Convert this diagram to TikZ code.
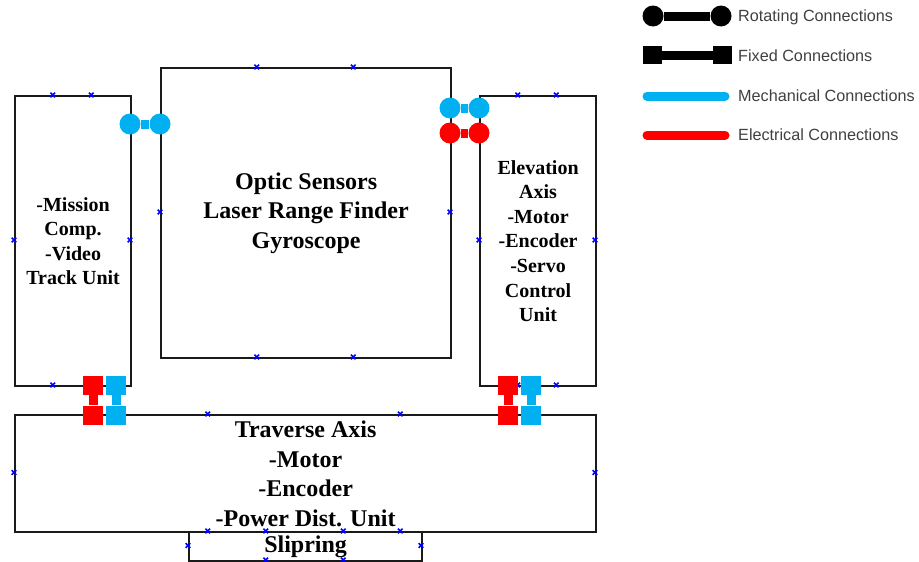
\documentclass[tikz,border=0pt]{standalone}
\usepackage{fontspec}
\setmainfont{Liberation Serif}
\newfontfamily\legendfont{Liberation Sans}
\definecolor{mech}{HTML}{00B0F0}
\definecolor{elec}{HTML}{FF0000}
\definecolor{edgecol}{HTML}{1A1A1A}
\definecolor{legtext}{HTML}{404040}
\begin{document}
\begin{tikzpicture}[x=1pt,y=-1pt,
 box/.style={draw=edgecol, line width=2.2pt, rectangle, inner sep=0pt, anchor=north west, align=center, font=\bfseries\fontsize{24}{29.5}\selectfont},
 sbox/.style={box, font=\bfseries\fontsize{20}{24.6}\selectfont},
 rot/.style={circle, fill=#1, minimum size=21pt, inner sep=0pt},
 fix/.style={rectangle, fill=#1, minimum width=20pt, minimum height=19pt, inner sep=0pt},
 bar/.style={draw=#1, line width=9pt},
 cmark/.pic={\draw[blue, line width=1.5pt] (-2.3,-2.3)--(2.3,2.3) (-2.3,2.3)--(2.3,-2.3);},
 leg/.style={anchor=west, inner sep=0pt, text=legtext, font=\legendfont\fontsize{16.2}{19}\selectfont}
]
\useasboundingbox (0,0) rectangle (919,562);

% boxes
\node[sbox, minimum width=116pt, minimum height=290pt] (mission) at (14,95) {-Mission\\Comp.\\-Video\\Track Unit};
\node[box, minimum width=290pt, minimum height=290pt] (optic) at (160,67) {Optic Sensors\\Laser Range Finder\\Gyroscope};
\node[sbox, minimum width=116pt, minimum height=290pt] (elev) at (479,95) {Elevation\\Axis\\-Motor\\-Encoder\\-Servo\\Control\\Unit};
\node[box, minimum width=581pt, minimum height=117pt] (trav) at (14,414) {Traverse Axis\\-Motor\\-Encoder\\-Power Dist. Unit};
\node[box, minimum width=233pt, minimum height=29pt] (slip) at (188,531) {Slipring};

% connection point marks
\foreach \p in {(52.7,95),(91.3,95),(14,240),(130,240),(52.7,385),(91.3,385),
  (256.7,67),(353.3,67),(256.7,357),(353.3,357),(160,212),(450,212),
  (517.7,95),(556.3,95),(479,240),(595,240),(517.7,385),(556.3,385),
  (207.7,414),(400.3,414),(207.7,531),(400.3,531),(14,472.5),(595,472.5),
  (265.7,531),(343.3,531),(265.7,560),(343.3,560),(188,545.5),(421,545.5)}
  \pic at \p {cmark};

% rotating connections
\node[rot=mech] (r1a) at (130,124) {};
\node[rot=mech] (r1b) at (160,124) {};
\draw[bar=mech] (r1a) -- (r1b);
\node[rot=mech] (r2a) at (450,108) {};
\node[rot=mech] (r2b) at (479,108) {};
\draw[bar=mech] (r2a) -- (r2b);
\node[rot=elec] (r3a) at (450,133) {};
\node[rot=elec] (r3b) at (479,133) {};
\draw[bar=elec] (r3a) -- (r3b);

% fixed connections
\node[fix=elec] (f1a) at (93,385.5) {};
\node[fix=elec] (f1b) at (93,415) {};
\draw[bar=elec] (f1a) -- (f1b);
\node[fix=mech] (f2a) at (116,385.5) {};
\node[fix=mech] (f2b) at (116,415) {};
\draw[bar=mech] (f2a) -- (f2b);
\node[fix=elec] (f3a) at (508,385.5) {};
\node[fix=elec] (f3b) at (508,415) {};
\draw[bar=elec] (f3a) -- (f3b);
\node[fix=mech] (f4a) at (531,385.5) {};
\node[fix=mech] (f4b) at (531,415) {};
\draw[bar=mech] (f4a) -- (f4b);

% legend
\node[rot=black] (lra) at (653,16) {};
\node[rot=black] (lrb) at (721,16) {};
\draw[bar=black] (lra) -- (lrb);
\node[leg] (lrt) at (738,17) {Rotating Connections};
\node[fix=black, minimum height=18pt, minimum width=19pt] (lfa) at (652.5,55) {};
\node[fix=black, minimum height=18pt, minimum width=19pt] (lfb) at (722.5,55) {};
\draw[bar=black] (lfa) -- (lfb);
\node[leg] (lft) at (738,56) {Fixed Connections};
\coordinate (lma) at (647,96);
\coordinate (lmb) at (725,96);
\draw[bar=mech, line cap=round] (lma) -- (lmb);
\node[leg] (lmt) at (738,96) {Mechanical Connections};
\coordinate (lea) at (647,135);
\coordinate (leb) at (725,135);
\draw[bar=elec, line cap=round] (lea) -- (leb);
\node[leg] (let) at (738,135) {Electrical Connections};
\end{tikzpicture}
\end{document}
